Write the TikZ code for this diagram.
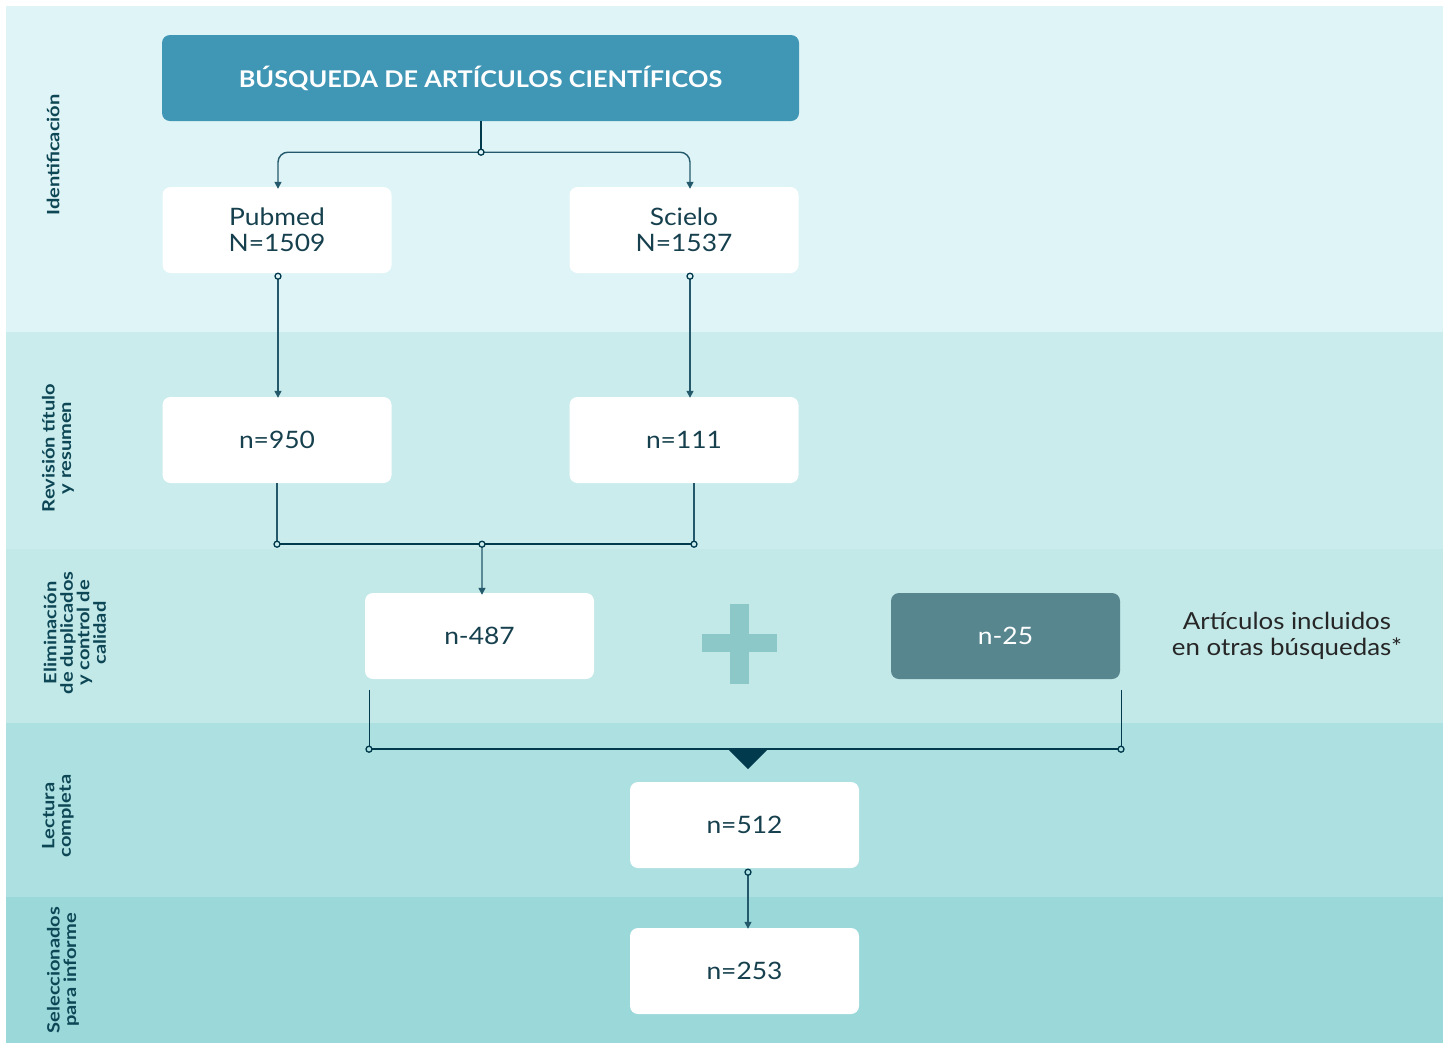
\documentclass[tikz,border=0pt]{standalone}
\usepackage{fontspec}
\setmainfont{Lato}[FakeStretch=1.1]
\newfontfamily\sidefont{Lato}[FakeStretch=1.18]
\usetikzlibrary{arrows.meta,calc}
\definecolor{bgA}{HTML}{DFF4F6}
\definecolor{bgB}{HTML}{CAECED}
\definecolor{bgC}{HTML}{C2E8E8}
\definecolor{bgD}{HTML}{ADE0E1}
\definecolor{bgE}{HTML}{9AD8DA}
\definecolor{titlec}{HTML}{4096B5}
\definecolor{darkbox}{HTML}{57868F}
\definecolor{linec}{HTML}{23596B}
\definecolor{darkc}{HTML}{003A4C}
\definecolor{txt}{HTML}{16404E}
\definecolor{sidetxt}{HTML}{0D4655}
\definecolor{plusc}{HTML}{8CC8C8}
\tikzset{
  box/.style={rectangle, rounded corners=8pt, fill=white, minimum width=229pt, minimum height=86pt, inner sep=0pt, text=txt, font=\fontsize{24}{26}\selectfont, align=center},
  titlebox/.style={box, fill=titlec, minimum width=637pt, text=white, font=\bfseries\fontsize{23}{26}\selectfont},
  darkboxst/.style={box, fill=darkbox, text=white},
  side/.style={rotate=90, text=sidetxt, font=\sidefont\bfseries\fontsize{17}{16.5}\selectfont, align=center, inner sep=0pt},
  thin/.style={draw=linec, line width=1.4pt},
  thick/.style={draw=darkc, line width=2.4pt},
  arr/.style={-{Triangle[length=7pt,width=7pt]}},
  dot/.style={circle, draw=darkc, line width=1.3pt, minimum size=6pt, inner sep=0pt},
}
\begin{document}
\begin{tikzpicture}[x=1pt,y=-1pt]
\useasboundingbox (0,0) rectangle (1449,1045);
\fill[white] (0,0) rectangle (1449,1045);
% bands
\fill[bgA] (6,6) rectangle (1443,332);
\fill[bgB] (6,332) rectangle (1443,549);
\fill[bgC] (6,549) rectangle (1443,723);
\fill[bgD] (6,723) rectangle (1443,897);
\fill[bgE] (6,897) rectangle (1443,1043);
% side labels
\node[side] (l1) at (53,155) {Identificación};
\node[side] (l2) at (58,448) {Revisión título\\y resumen};
\node[side] (l3) at (75,633) {Eliminación\\de duplicados\\y control de\\calidad};
\node[side] (l4) at (58,816) {Lectura\\completa};
\node[side] (l5) at (63,970) {Seleccionados\\para informe};
% boxes
\node[titlebox] (title) at (480.5,78) {BÚSQUEDA DE ARTÍCULOS CIENTÍFICOS};
\node[box] (pub) at (277,230) {Pubmed\\N=1509};
\node[box] (sci) at (684,230) {Scielo\\N=1537};
\node[box] (r1) at (277,440) {n=950};
\node[box] (r2) at (684,440) {n=111};
\node[box] (e1) at (479.5,636) {n-487};
\node[darkboxst] (e2) at (1005.5,636) {n-25};
\node[box] (lc) at (744.5,825) {n=512};
\node[box] (sel) at (744.5,971) {n=253};
\node[text=black!85, font=\fontsize{23.5}{26}\selectfont, align=center, inner sep=0pt] (other) at (1287,636) {Artículos incluidos\\en otras búsquedas*};
% plus
\fill[plusc] (730,604) rectangle (749,684);
\fill[plusc] (702,634) rectangle (777,652);
% connectors: title -> sources
\coordinate (j1) at ($(title.south)+(0.5,31)$);
\draw[draw=darkc, line width=2.2pt] ([xshift=0.5pt]title.south) -- (j1);
\draw[thin, arr, rounded corners=10pt] (j1) -| ([xshift=1pt,yshift=-2pt]pub.north);
\draw[thin, arr, rounded corners=10pt] (j1) -| ([xshift=6pt,yshift=-2pt]sci.north);
\node[dot, fill=bgA] at (j1) {};
% sources -> review
\coordinate (p1) at ($(pub.south)+(1,3)$);
\coordinate (s1) at ($(sci.south)+(6,3)$);
\draw[thin, arr] (p1) -- ([xshift=1pt,yshift=-1pt]r1.north);
\draw[thin, arr] (s1) -- ([xshift=6pt,yshift=-1pt]r2.north);
\node[dot, fill=bgA] at (p1) {};
\node[dot, fill=bgA] at (s1) {};
% review -> merge
\coordinate (m1) at ($(r1.south)+(0,61)$);
\coordinate (m2) at ($(r2.south)+(10,61)$);
\coordinate (m0) at ($(m1)!0.4916!(m2)$);
\draw[thin] (r1.south) -- (m1);
\draw[thin] ([xshift=10pt]r2.south) -- (m2);
\draw[thick] (m1) -- (m2);
\draw[thin, arr] (m0) -- ([xshift=2.5pt,yshift=-2pt]e1.north);
\node[dot, fill=bgB] at (m1) {};
\node[dot, fill=bgB] at (m2) {};
\node[dot, fill=bgB] at (m0) {};
% merge 2
\coordinate (a1) at ($(e1.south)+(-110.5,70)$);
\coordinate (a2) at ($(e2.south)+(115.5,70)$);
\coordinate (a0) at (748,749);
\draw[draw=darkc, line width=1pt] ($(e1.south)+(-110.5,11)$) -- (a1);
\draw[draw=darkc, line width=1pt] ($(e2.south)+(115.5,11)$) -- (a2);
\draw[thick] (a1) -- (a2);
\fill[darkc] (a0) ++(-20,0) -- ++(40,0) -- (748,769) -- cycle;
\node[dot, fill=bgD] at (a1) {};
\node[dot, fill=bgD] at (a2) {};
% full read -> selected
\coordinate (f1) at ($(lc.south)+(3.5,4)$);
\draw[thin, arr] (f1) -- ([xshift=3.5pt,yshift=-1pt]sel.north);
\node[dot, fill=bgD] at (f1) {};
\end{tikzpicture}
\end{document}
